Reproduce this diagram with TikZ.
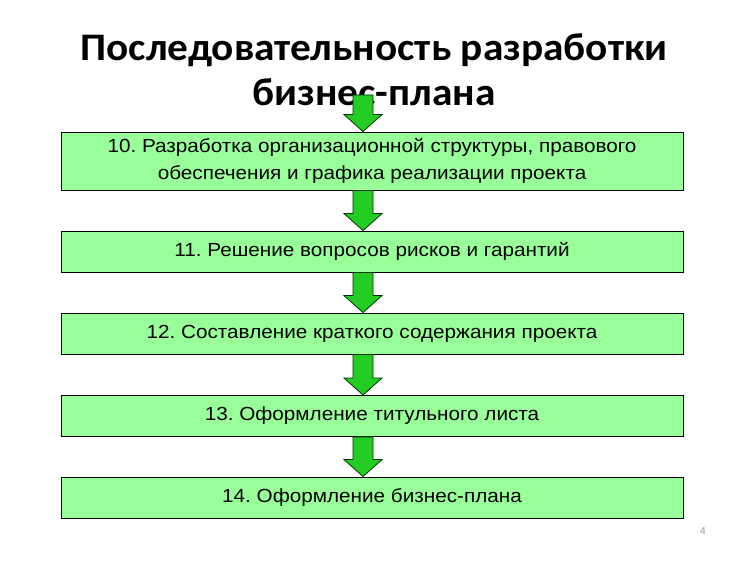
\documentclass[tikz,border=0pt]{standalone}
\usepackage{fontspec}
\setmainfont{Liberation Sans}[FakeStretch=1.09]
\newfontfamily\titlefont{Carlito}[FakeStretch=1.06]
\usetikzlibrary{calc}
\definecolor{boxgreen}{HTML}{99FF99}
\definecolor{arrowgreen}{HTML}{22CC22}
\tikzset{
  stepbox/.style={draw=black,fill=boxgreen,line width=0.9pt,minimum width=622pt,align=center,font=\fontsize{19}{27}\selectfont,inner sep=0pt},
  arrowbox/.style={draw=black!80!green,fill=arrowgreen,line width=0.8pt,line join=miter},
  title/.style={font=\titlefont\bfseries\fontsize{39}{45}\selectfont,align=center}
}
\newcommand{\downblock}[2]{%
  \draw[arrowbox] let \p1=(#1), \p2=(#2) in
    (\x1-10pt,\y1) -- (\x1+10pt,\y1) -- (\x1+10pt,\y2+17pt) -- (\x1+19pt,\y2+17pt)
    -- (\x1,\y2) -- (\x1-19pt,\y2+17pt) -- (\x1-10pt,\y2+17pt) -- cycle;}
\frenchspacing

\begin{document}
\begin{tikzpicture}[x=1pt,y=-1pt]
    \useasboundingbox (0,0) rectangle (750,561);
    \node[title] (head) at (374,70) {Последовательность разработки\\бизнес-плана};
    \coordinate (top) at (363,95);
    \node[stepbox,minimum height=58pt] (b1) at (372,161) {10. Разработка организационной структуры, правового\\обеспечения и графика реализации проекта};
    \node[stepbox,minimum height=41pt] (b2) at (372,251.5) {11. Решение вопросов рисков и гарантий};
    \node[stepbox,minimum height=41pt] (b3) at (372,333.5) {12. Составление краткого содержания проекта};
    \node[stepbox,minimum height=41pt] (b4) at (372,416) {13. Оформление титульного листа};
    \node[stepbox,minimum height=41pt] (b5) at (372,497.5) {14. Оформление бизнес-плана};
    \downblock{top}{b1.north -| top}
    \downblock{b1.south -| top}{b2.north -| top}
    \downblock{b2.south -| top}{b3.north -| top}
    \downblock{b3.south -| top}{b4.north -| top}
    \downblock{b4.south -| top}{b5.north -| top}
    \node[text=black!40,font=\fontsize{10}{12}\selectfont] (page) at (703,531) {4};
\end{tikzpicture}
\end{document}
